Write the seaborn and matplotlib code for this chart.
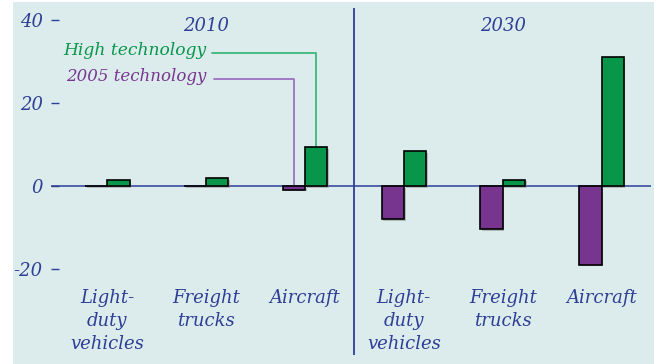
import numpy as np
import pandas as pd
import matplotlib
matplotlib.use("Agg")
import matplotlib.pyplot as plt
import matplotlib.patheffects as pe
from matplotlib.patches import Rectangle
import seaborn as sns

years = ["2010", "2030"]
vehicles = ["Light-\nduty\nvehicles", "Freight\ntrucks", "Aircraft"]
series = ["2005 technology", "High technology"]
tech2005 = [0.1, 0.1, -0.9, -8.0, -10.4, -19.0]
hightech = [1.5, 1.8, 9.4, 8.4, 1.5, 31.0]
yticks = [-20, 0, 20, 40]

slots = [y + " " + v for y in years for v in vehicles]
df = pd.DataFrame({
    "slot": slots * 2,
    "series": [series[0]] * 6 + [series[1]] * 6,
    "value": tech2005 + hightech,
})

bg = "#dcecec"
blue = "#2d3e96"
green = "#08964a"
purple = "#773590"

sns.set_style("white")
plt.rcParams["font.family"] = ["DejaVu Serif"]

fig = plt.figure(figsize=(6.54, 3.64), dpi=100, facecolor="white")
fig.patches.append(Rectangle((13 / 654, 0), 1, 1 - 2 / 364, transform=fig.transFigure,
                             facecolor=bg, edgecolor="none", zorder=-10))
ax = fig.add_axes([51 / 654, 0, 600 / 654, 1])
ax.set_facecolor("none")

sns.barplot(data=df, x="slot", y="value", hue="series", order=slots, hue_order=series,
            palette=[purple, green], width=0.45, edgecolor="black", linewidth=1.2,
            saturation=1, legend=False, ax=ax, zorder=3)
for p in ax.patches:
    p.set_path_effects([pe.SimplePatchShadow(offset=(1.2, -1.2), shadow_rgbFace="#888888", alpha=0.5),
                        pe.Normal()])

ax.set_xlim(-0.57, 5.5)
ax.set_ylim(-42.9, 44.8)
ax.axhline(0, color=blue, lw=1.1, zorder=2)
ax.vlines(2.5, -40.7, 42.9, color=blue, lw=1.3, zorder=2)

ax.set_yticks(yticks)
ax.set_yticklabels([str(t) for t in yticks], fontsize=13, style="italic", color=blue)
ax.tick_params(axis="y", direction="in", length=5.5, width=1, color=blue, pad=6, left=True)
ax.set_xticks([])
ax.set_xlabel("")
ax.set_ylabel("")
sns.despine(ax=ax, left=True, bottom=True)

for i, s in enumerate(slots):
    ax.text(i, -24.8, vehicles[i % 3], ha="center", va="top", fontsize=13,
            style="italic", color=blue, linespacing=1.35)
for j, y in enumerate(years):
    ax.text(1 + 3 * j, 38.5, y, ha="center", va="center", fontsize=13, style="italic", color=blue)

# leader labels
ax.text(1.0, 32.6, series[1], ha="right", va="center", fontsize=12.3, style="italic", color=green)
ax.text(1.0, 26.4, series[0], ha="right", va="center", fontsize=12.0, style="italic", color=purple)
ax.plot([1.06, 2.1125, 2.1125], [32.0, 32.0, hightech[2]], color="#3cb878", lw=1.3, zorder=2)
ax.plot([1.08, 1.8875, 1.8875], [25.8, 25.8, 0], color="#a070c0", lw=1.3, zorder=2)

fig.savefig("out.png", dpi=100, facecolor="white")
